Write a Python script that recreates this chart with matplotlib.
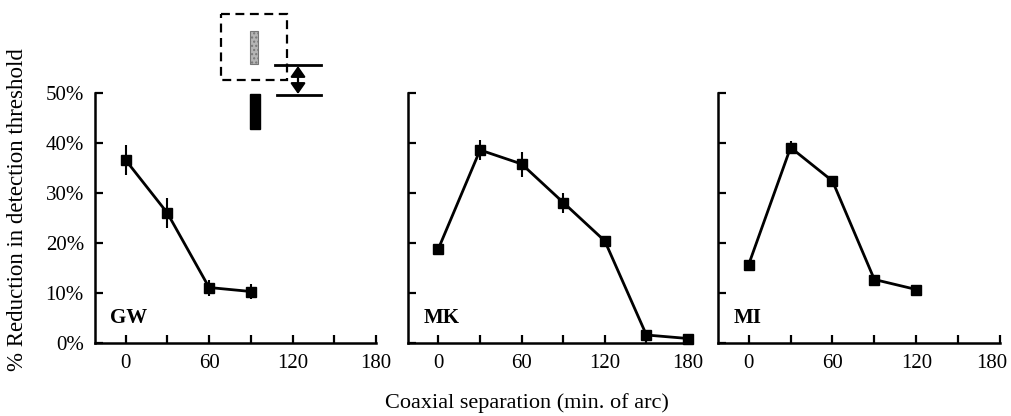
import numpy as np
import matplotlib
matplotlib.use('Agg')
import matplotlib.pyplot as plt
import matplotlib.transforms as mtransforms
from matplotlib.patches import Rectangle, FancyArrowPatch

plt.rcParams['font.family'] = ['Liberation Serif', 'DejaVu Serif']

# coaxial separation (min. of arc) and % reduction in detection threshold
gw_x = [0, 30, 60, 90]
gw_y = [36.6, 26.0, 11.1, 10.3]
gw_err = [3.0, 3.0, 1.6, 1.5]

mk_x = [0, 30, 60, 90, 120, 150, 180]
mk_y = [18.9, 38.6, 35.8, 28.1, 20.4, 1.6, 0.9]
mk_err = [1.0, 2.0, 2.5, 2.0, 1.0, 0.5, 0.4]

mi_x = [0, 30, 60, 90, 120]
mi_y = [15.7, 39.1, 32.4, 12.7, 10.7]
mi_err = [0.6, 1.3, 1.0, 0.6, 0.5]

panels = [('GW', gw_x, gw_y, gw_err),
          ('MK', mk_x, mk_y, mk_err),
          ('MI', mi_x, mi_y, mi_err)]

W, H = 1012, 416
fig = plt.figure(figsize=(W / 100, H / 100), dpi=100)

lefts = [95, 408, 718]
widths = [281, 280, 282]
bottom_px, top_px = 343, 93

for i, (name, x, y, err) in enumerate(panels):
    ax = fig.add_axes([lefts[i] / W, 1 - bottom_px / H,
                       widths[i] / W, (bottom_px - top_px) / H])
    ax.patch.set_alpha(0)
    ax.errorbar(x, y, yerr=err, color='black', marker='s', ms=6.5,
                lw=2, elinewidth=1.5, capsize=0, clip_on=False)
    ax.set_xlim(-22, 180)
    ax.set_ylim(0, 50)
    ax.set_xticks(np.arange(0, 181, 30))
    ax.set_xticklabels(['0', '', '60', '', '120', '', '180'])
    ax.set_yticks(np.arange(0, 51, 10))
    if i == 0:
        ax.set_yticklabels([f'{v}%' for v in range(0, 51, 10)])
    else:
        ax.set_yticklabels([])
    ax.tick_params(direction='in', length=6, width=1.6, labelsize=15, pad=8)
    for s in ['top', 'right']:
        ax.spines[s].set_visible(False)
    for s in ['left', 'bottom']:
        ax.spines[s].set_linewidth(1.8)
    ax.text(0.055, 0.06, name, transform=ax.transAxes, fontsize=15,
            fontweight='bold', ha='left', va='bottom')
    if i == 2:
        lab = ax.get_xticklabels()[-1]
        lab.set_transform(lab.get_transform() +
                          mtransforms.ScaledTranslation(-8 / 100, 0, fig.dpi_scale_trans))

fig.text(18 / W, 1 - 210 / H, '% Reduction in detection threshold',
         rotation=90, ha='center', va='center', fontsize=16.5)
fig.text(527 / W, 1 - 403 / H, 'Coaxial separation (min. of arc)',
         ha='center', va='center', fontsize=16)

# stimulus schematic
sk = fig.add_axes([0, 0, 1, 1], zorder=5)
sk.patch.set_alpha(0)
sk.set_xlim(0, W)
sk.set_ylim(H, 0)
sk.axis('off')
sk.add_patch(Rectangle((221, 14), 66, 66, fill=False, ls=(0, (4, 2.5)),
                       lw=1.6, ec='black'))
sk.add_patch(Rectangle((250, 31), 8, 33, fc='#b5b5b5', ec='#777777', lw=0.8,
                       hatch='....'))
sk.add_patch(Rectangle((250, 94), 10, 35, fc='black', ec='black'))
sk.plot([275, 321], [65, 65], color='black', lw=2)
sk.plot([277, 321], [95, 95], color='black', lw=2)
sk.add_patch(FancyArrowPatch((298, 66), (298, 94), arrowstyle='<|-|>,head_length=0.4,head_width=0.28',
                             mutation_scale=16, shrinkA=0, shrinkB=0,
                             color='black', lw=1.6))

fig.savefig('out.png', dpi=100)
